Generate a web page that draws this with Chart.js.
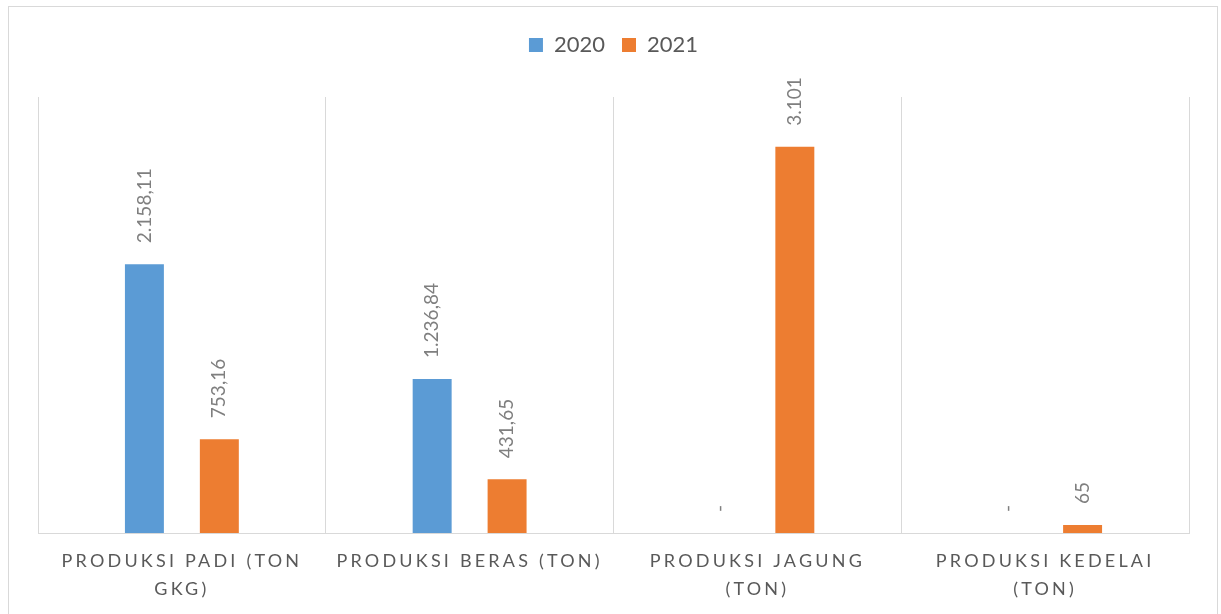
<!DOCTYPE html>
<html>
<head>
<meta charset="utf-8">
<script src="https://cdn.jsdelivr.net/npm/chart.js@4.4.1/dist/chart.umd.min.js"></script>
<style>
    html, body { margin: 0; padding: 0; background: #fff; overflow: hidden; }
    #wrap {
        position: absolute; left: 8px; top: 6px;
        width: 1210px; height: 640px;
        box-sizing: border-box;
        border: 1px solid #d9d9d9;
    }
    #grafico { display: block; }
</style>
</head>
<body>
<div id="wrap">
    <canvas id="grafico" width="1208" height="607"></canvas>
</div>
<script>
// categories and series
const kategori = [
    ['PRODUKSI PADI (TON', 'GKG)'],
    ['PRODUKSI BERAS (TON)'],
    ['PRODUKSI JAGUNG', '(TON)'],
    ['PRODUKSI KEDELAI', '(TON)']
];
const tahun2020 = [2158.11, 1236.84, 0, 0];
const tahun2021 = [753.16, 431.65, 3101, 65];
const seriesLabels = ['2020', '2021'];

const FONT = 'Lato, "Open Sans", sans-serif';

// number format like Excel (id-ID), zero shown as dash
function formatAngka(n) {
    if (n === 0) return '-';
    const parts = String(n).split('.');
    const inteiro = parts[0].replace(/\B(?=(\d{3})+(?!\d))/g, '.');
    return parts[1] ? inteiro + ',' + parts[1] : inteiro;
}

// legend: push plot area down to match the reference
const legendaAltura = {
    id: 'legendaAltura',
    beforeInit(chart) {
        const fitOrig = chart.legend.fit;
        chart.legend.fit = function () {
            fitOrig.call(this);
            this.height = 80;
        };
    }
};

// rotated value labels above each bar
const rotulos = {
    id: 'rotulos',
    afterDatasetsDraw(chart) {
        const ctx = chart.ctx;
        ctx.save();
        ctx.font = '19px ' + FONT;
        ctx.fillStyle = '#7f7f7f';
        ctx.textAlign = 'left';
        ctx.textBaseline = 'middle';
        chart.data.datasets.forEach((ds, i) => {
            chart.getDatasetMeta(i).data.forEach((bar, j) => {
                ctx.save();
                ctx.translate(bar.x, bar.y - 21);
                ctx.rotate(-Math.PI / 2);
                ctx.fillText(formatAngka(ds.data[j]), 0, 0);
                ctx.restore();
            });
        });
        ctx.restore();
    }
};

// spaced category labels under the axis
const rotulosX = {
    id: 'rotulosX',
    afterDraw(chart) {
        const ctx = chart.ctx;
        const escala = chart.scales.x;
        ctx.save();
        ctx.font = '18px ' + FONT;
        ctx.fillStyle = '#595959';
        ctx.textAlign = 'center';
        ctx.textBaseline = 'middle';
        ctx.letterSpacing = '3.2px';
        kategori.forEach((linhas, i) => {
            const x = escala.getPixelForValue(i);
            linhas.forEach((t, k) => {
                ctx.fillText(t, x, chart.chartArea.bottom + 28 + k * 28);
            });
        });
        ctx.restore();
    }
};

new Chart(document.getElementById('grafico'), {
    type: 'bar',
    data: {
        labels: kategori,
        datasets: [
            { label: seriesLabels[0], data: tahun2020, backgroundColor: '#5b9bd5' },
            { label: seriesLabels[1], data: tahun2021, backgroundColor: '#ed7d31' }
        ]
    },
    options: {
        responsive: false,
        animation: false,
        categoryPercentage: 0.5208,
        barPercentage: 0.52,
        layout: { padding: { left: 29, right: 28, top: 10, bottom: 0 } },
        plugins: {
            tooltip: { enabled: false },
            legend: {
                position: 'top',
                labels: {
                    boxWidth: 14,
                    boxHeight: 14,
                    padding: 17,
                    color: '#595959',
                    font: { family: FONT, size: 22 }
                }
            }
        },
        scales: {
            x: {
                grid: { color: '#d9d9d9', offset: true, drawTicks: false },
                border: { color: '#d9d9d9' },
                ticks: { color: 'transparent', autoSkip: false, maxRotation: 0 },
                afterFit(scale) { scale.height = 81; }
            },
            y: {
                display: false,
                min: 0,
                max: 3500
            }
        }
    },
    plugins: [legendaAltura, rotulos, rotulosX]
});
</script>
</body>
</html>
